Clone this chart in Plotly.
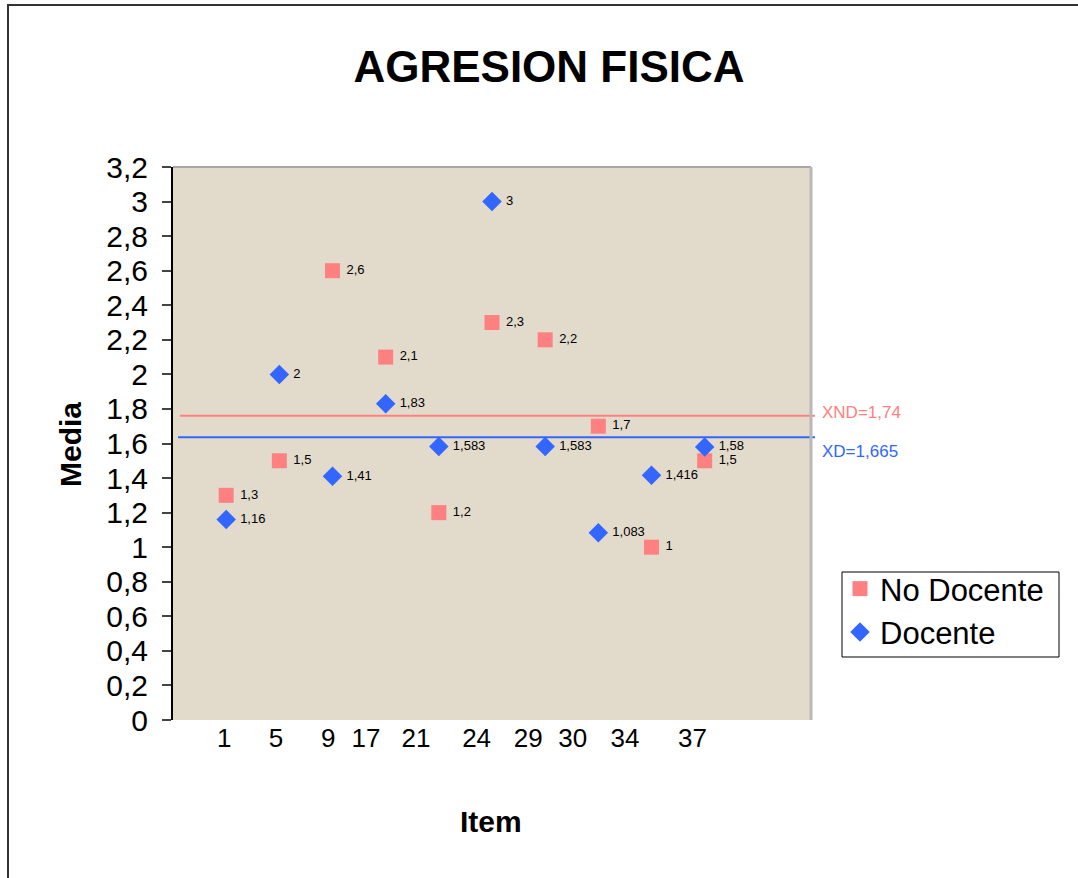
import plotly.graph_objects as go

# ---- data ----
items_pos = [1, 2, 3, 4, 5, 6, 7, 8, 9, 10]
no_docente = [1.3, 1.5, 2.6, 2.1, 1.2, 2.3, 2.2, 1.7, 1.0, 1.5]
docente = [1.16, 2.0, 1.41, 1.83, 1.583, 3.0, 1.583, 1.083, 1.416, 1.58]
item_labels = ["1", "5", "9", "17", "21", "24", "29", "30", "34", "37"]
item_label_pos = [0.965, 1.937, 2.921, 3.63, 4.57, 5.71, 6.68, 7.52, 8.50, 9.77]
xnd_level = 1.76   # drawn line position (label XND=1,74)
xd_level = 1.636   # drawn line position (label XD=1,665)
xnd_label = "XND=1,74"
xd_label = "XD=1,665"
y_ticks = [round(i * 0.2, 1) for i in range(17)]

PINK = "#FF8080"
BLUE = "#3366FF"
FONT = "Liberation Sans, Arial, sans-serif"

W, H = 1078, 878
ML, MR, MT, MB = 173, 267, 167, 158
PW, PH = W - ML - MR, H - MT - MB


def px_x(px):
    return (px - ML) / PW


def px_y(py):
    return (H - MB - py) / PH


def fmt(v):
    return f"{v:g}".replace(".", ",")


NB = "\u00a0"

fig = go.Figure()
fig.add_trace(go.Scatter(
    x=items_pos, y=no_docente, mode="markers+text", name="No Docente",
    marker=dict(symbol="square", size=15, color=PINK),
    text=[NB + fmt(v) for v in no_docente], textposition="middle right",
    textfont=dict(size=13, color="black", family=FONT), cliponaxis=False,
))
fig.add_trace(go.Scatter(
    x=items_pos, y=docente, mode="markers+text", name="Docente",
    marker=dict(symbol="diamond", size=15, color=BLUE),
    text=[NB + fmt(v) for v in docente], textposition="middle right",
    textfont=dict(size=13, color="black", family=FONT), cliponaxis=False,
))

shapes = [
    # mean lines
    dict(type="line", xref="paper", yref="y", x0=px_x(180), x1=px_x(815), y0=xnd_level, y1=xnd_level,
         line=dict(color=PINK, width=2)),
    dict(type="line", xref="paper", yref="y", x0=px_x(178), x1=px_x(815), y0=xd_level, y1=xd_level,
         line=dict(color=BLUE, width=2)),
    # plot area top/right border
    dict(type="line", xref="paper", yref="paper", x0=0, x1=1, y0=1, y1=1,
         line=dict(color="#a8a8a8", width=2)),
    dict(type="line", xref="paper", yref="paper", x0=1, x1=1, y0=0, y1=1,
         line=dict(color="#b8b8b8", width=3)),
    # outer chart frame
    dict(type="rect", xref="paper", yref="paper", x0=px_x(8), x1=px_x(1100), y0=px_y(890), y1=px_y(5),
         line=dict(color="#333333", width=2), layer="below"),
    # legend box
    dict(type="rect", xref="paper", yref="paper", x0=px_x(842), x1=px_x(1059), y0=px_y(657), y1=px_y(572),
         line=dict(color="black", width=1), fillcolor="white", layer="below"),
]

annotations = [
    dict(text=xnd_label, xref="paper", yref="y", x=px_x(820), y=xnd_level + 0.02, xanchor="left",
         yanchor="middle", showarrow=False, font=dict(size=17, color=PINK, family=FONT)),
    dict(text=xd_label, xref="paper", yref="y", x=px_x(820), y=xd_level - 0.08, xanchor="left",
         yanchor="middle", showarrow=False, font=dict(size=17, color=BLUE, family=FONT)),
    dict(text="<b>Media</b>", xref="paper", yref="paper", x=px_x(70), y=px_y(445), textangle=-90,
         xanchor="center", yanchor="middle",
         showarrow=False, font=dict(size=30, color="black", family=FONT)),
    dict(text="<b>Item</b>", xref="paper", yref="paper", x=px_x(491), y=px_y(821),
         xanchor="center", yanchor="middle",
         showarrow=False, font=dict(size=30, color="black", family=FONT)),
]

fig.update_layout(
    width=W, height=H,
    margin=dict(l=ML, r=MR, t=MT, b=MB),
    paper_bgcolor="white", plot_bgcolor="#E2DACB",
    font=dict(family=FONT, color="black"),
    title=dict(text="<b>AGRESION FISICA</b>", x=px_x(549), xref="paper", y=1 - 67 / H,
               yref="container", xanchor="center", yanchor="middle",
               font=dict(size=44, color="black", family=FONT)),
    xaxis=dict(range=[0, 12], showgrid=False, zeroline=False, showline=False,
               tickmode="array", tickvals=item_label_pos, ticktext=item_labels,
               ticks="", tickfont=dict(size=26, color="black", family=FONT)),
    yaxis=dict(range=[0, 3.2], showgrid=False, zeroline=False, showline=True,
               linecolor="black", linewidth=2, ticks="outside", ticklen=9,
               tickcolor="#444444", tickwidth=2,
               tickmode="array", tickvals=y_ticks, ticktext=[fmt(v) for v in y_ticks],
               tickfont=dict(size=30, color="black", family=FONT), ticklabelstandoff=8),
    legend=dict(x=px_x(840), y=px_y(562), xanchor="left", yanchor="top",
                borderwidth=0, bgcolor="rgba(0,0,0,0)",
                font=dict(size=31, color="black", family=FONT), itemwidth=30),
    shapes=shapes, annotations=annotations, showlegend=True,
)

fig.write_html("out.html", config={"displayModeBar": False},
               post_script="document.body.style.margin='0px';")
